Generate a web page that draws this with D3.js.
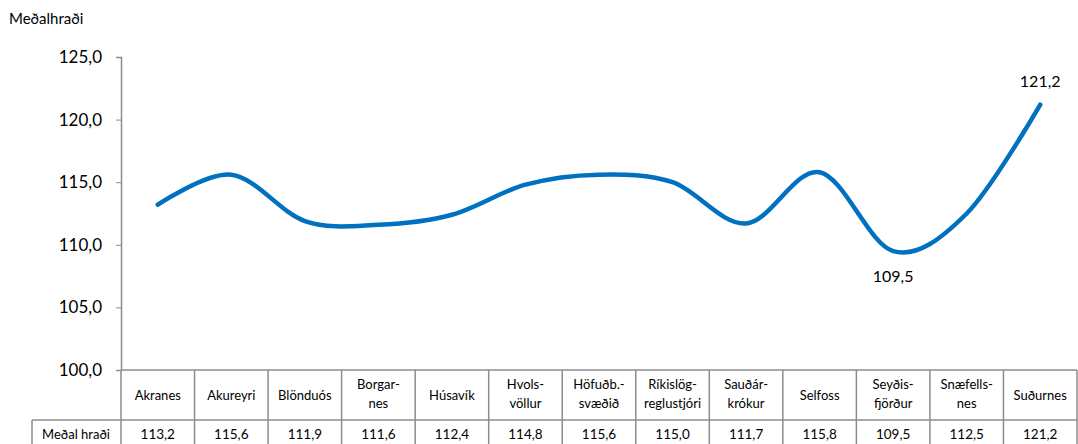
<!DOCTYPE html>
<html>
<head>
<meta charset="utf-8">
<script src="https://cdn.jsdelivr.net/npm/d3@7"></script>
<style>
  body { margin: 0; background: #fff; }
  text { font-family: Lato, "Open Sans", sans-serif; fill: #000; }
</style>
</head>
<body>
<svg id="chart" width="1078" height="444"></svg>
<script>
var categories = ["Akranes", "Akureyri", "Blönduós", "Borgar-\nnes", "Húsavík", "Hvols-\nvöllur",
  "Höfuðb.-\nsvæðið", "Ríkislög-\nreglustjóri", "Sauðár-\nkrókur", "Selfoss", "Seyðis-\nfjörður",
  "Snæfells-\nnes", "Suðurnes"];
var values = [113.2, 115.6, 111.9, 111.6, 112.4, 114.8, 115.6, 115.0, 111.7, 115.8, 109.5, 112.5, 121.2];
var yTicks = [100, 105, 110, 115, 120, 125];
var labelled = [10, 12];
var seriesName = "Meðal hraði";

var plotLeft = 121, plotRight = 1077, plotTop = 57, plotBottom = 370;
var gray = "#8c8c8c";
var fmt = function(v) { return d3.format(".1f")(v).replace(".", ","); };

var svg = d3.select("#chart");

var x = d3.scaleBand()
  .domain(d3.range(categories.length))
  .range([plotLeft, plotRight]);

var y = d3.scaleLinear()
  .domain([100, 125])
  .range([plotBottom, plotTop]);

// y axis
var yAxis = svg.append("g")
  .attr("transform", "translate(" + plotLeft + ",0)")
  .call(d3.axisLeft(y).tickValues(yTicks).tickSize(5).tickPadding(14).tickFormat(fmt));
yAxis.select(".domain").attr("stroke", gray).attr("stroke-width", 1.5);
yAxis.selectAll(".tick line").attr("stroke", gray);
yAxis.selectAll(".tick text")
  .style("font-family", "Lato, sans-serif")
  .style("font-size", "17px")
  .attr("fill", "#000");

svg.append("text")
  .attr("x", 9)
  .attr("y", 24)
  .style("font-size", "15px")
  .text("Meðalhraði");

// line
var line = d3.line()
  .x(function(d, i) { return x(i) + x.bandwidth() / 2; })
  .y(function(d) { return y(d); })
  .curve(d3.curveCardinal.tension(0));

svg.append("path")
  .datum(values)
  .attr("d", line)
  .attr("fill", "none")
  .attr("stroke", "#0070C0")
  .attr("stroke-width", 4.5)
  .attr("stroke-linecap", "round");

// data labels
svg.selectAll(".dlabel")
  .data(labelled)
  .enter().append("text")
  .attr("class", "dlabel")
  .attr("x", function(i) { return x(i) + x.bandwidth() / 2; })
  .attr("y", function(i) { return i === 10 ? y(values[i]) + 31 : y(values[i]) - 18; })
  .attr("text-anchor", "middle")
  .style("font-size", "16px")
  .text(function(i) { return fmt(values[i]); });

// data table
var rowMid = 420, rowEnd = 446;
var grid = svg.append("g").attr("stroke", gray).attr("stroke-width", 1.5);

grid.append("line").attr("x1", plotLeft).attr("x2", plotRight).attr("y1", plotBottom).attr("y2", plotBottom);
grid.append("line").attr("x1", 32).attr("x2", plotRight).attr("y1", rowMid).attr("y2", rowMid);
grid.append("line").attr("x1", 32).attr("x2", 32).attr("y1", rowMid).attr("y2", rowEnd);

grid.selectAll(".vline")
  .data(d3.range(categories.length + 1))
  .enter().append("line")
  .attr("class", "vline")
  .attr("x1", function(i) { return i < categories.length ? x(i) : plotRight; })
  .attr("x2", function(i) { return i < categories.length ? x(i) : plotRight; })
  .attr("y1", plotBottom)
  .attr("y2", rowEnd);

var catText = svg.selectAll(".cat")
  .data(categories)
  .enter().append("text")
  .attr("class", "cat")
  .attr("text-anchor", "middle")
  .style("font-size", "13px");

catText.each(function(d, i) {
  var parts = d.split("\n");
  var cx = x(i) + x.bandwidth() / 2;
  var startY = parts.length === 1 ? 400 : 389;
  d3.select(this).selectAll("tspan")
    .data(parts)
    .enter().append("tspan")
    .attr("x", cx)
    .attr("y", function(p, j) { return startY + j * 19; })
    .text(function(p) { return p; });
});

svg.selectAll(".val")
  .data(values)
  .enter().append("text")
  .attr("class", "val")
  .attr("x", function(d, i) { return x(i) + x.bandwidth() / 2; })
  .attr("y", 439)
  .attr("text-anchor", "middle")
  .style("font-size", "13.5px")
  .text(fmt);

svg.append("text")
  .attr("x", 76)
  .attr("y", 439)
  .attr("text-anchor", "middle")
  .style("font-size", "13px")
  .text(seriesName);
</script>
</body>
</html>
